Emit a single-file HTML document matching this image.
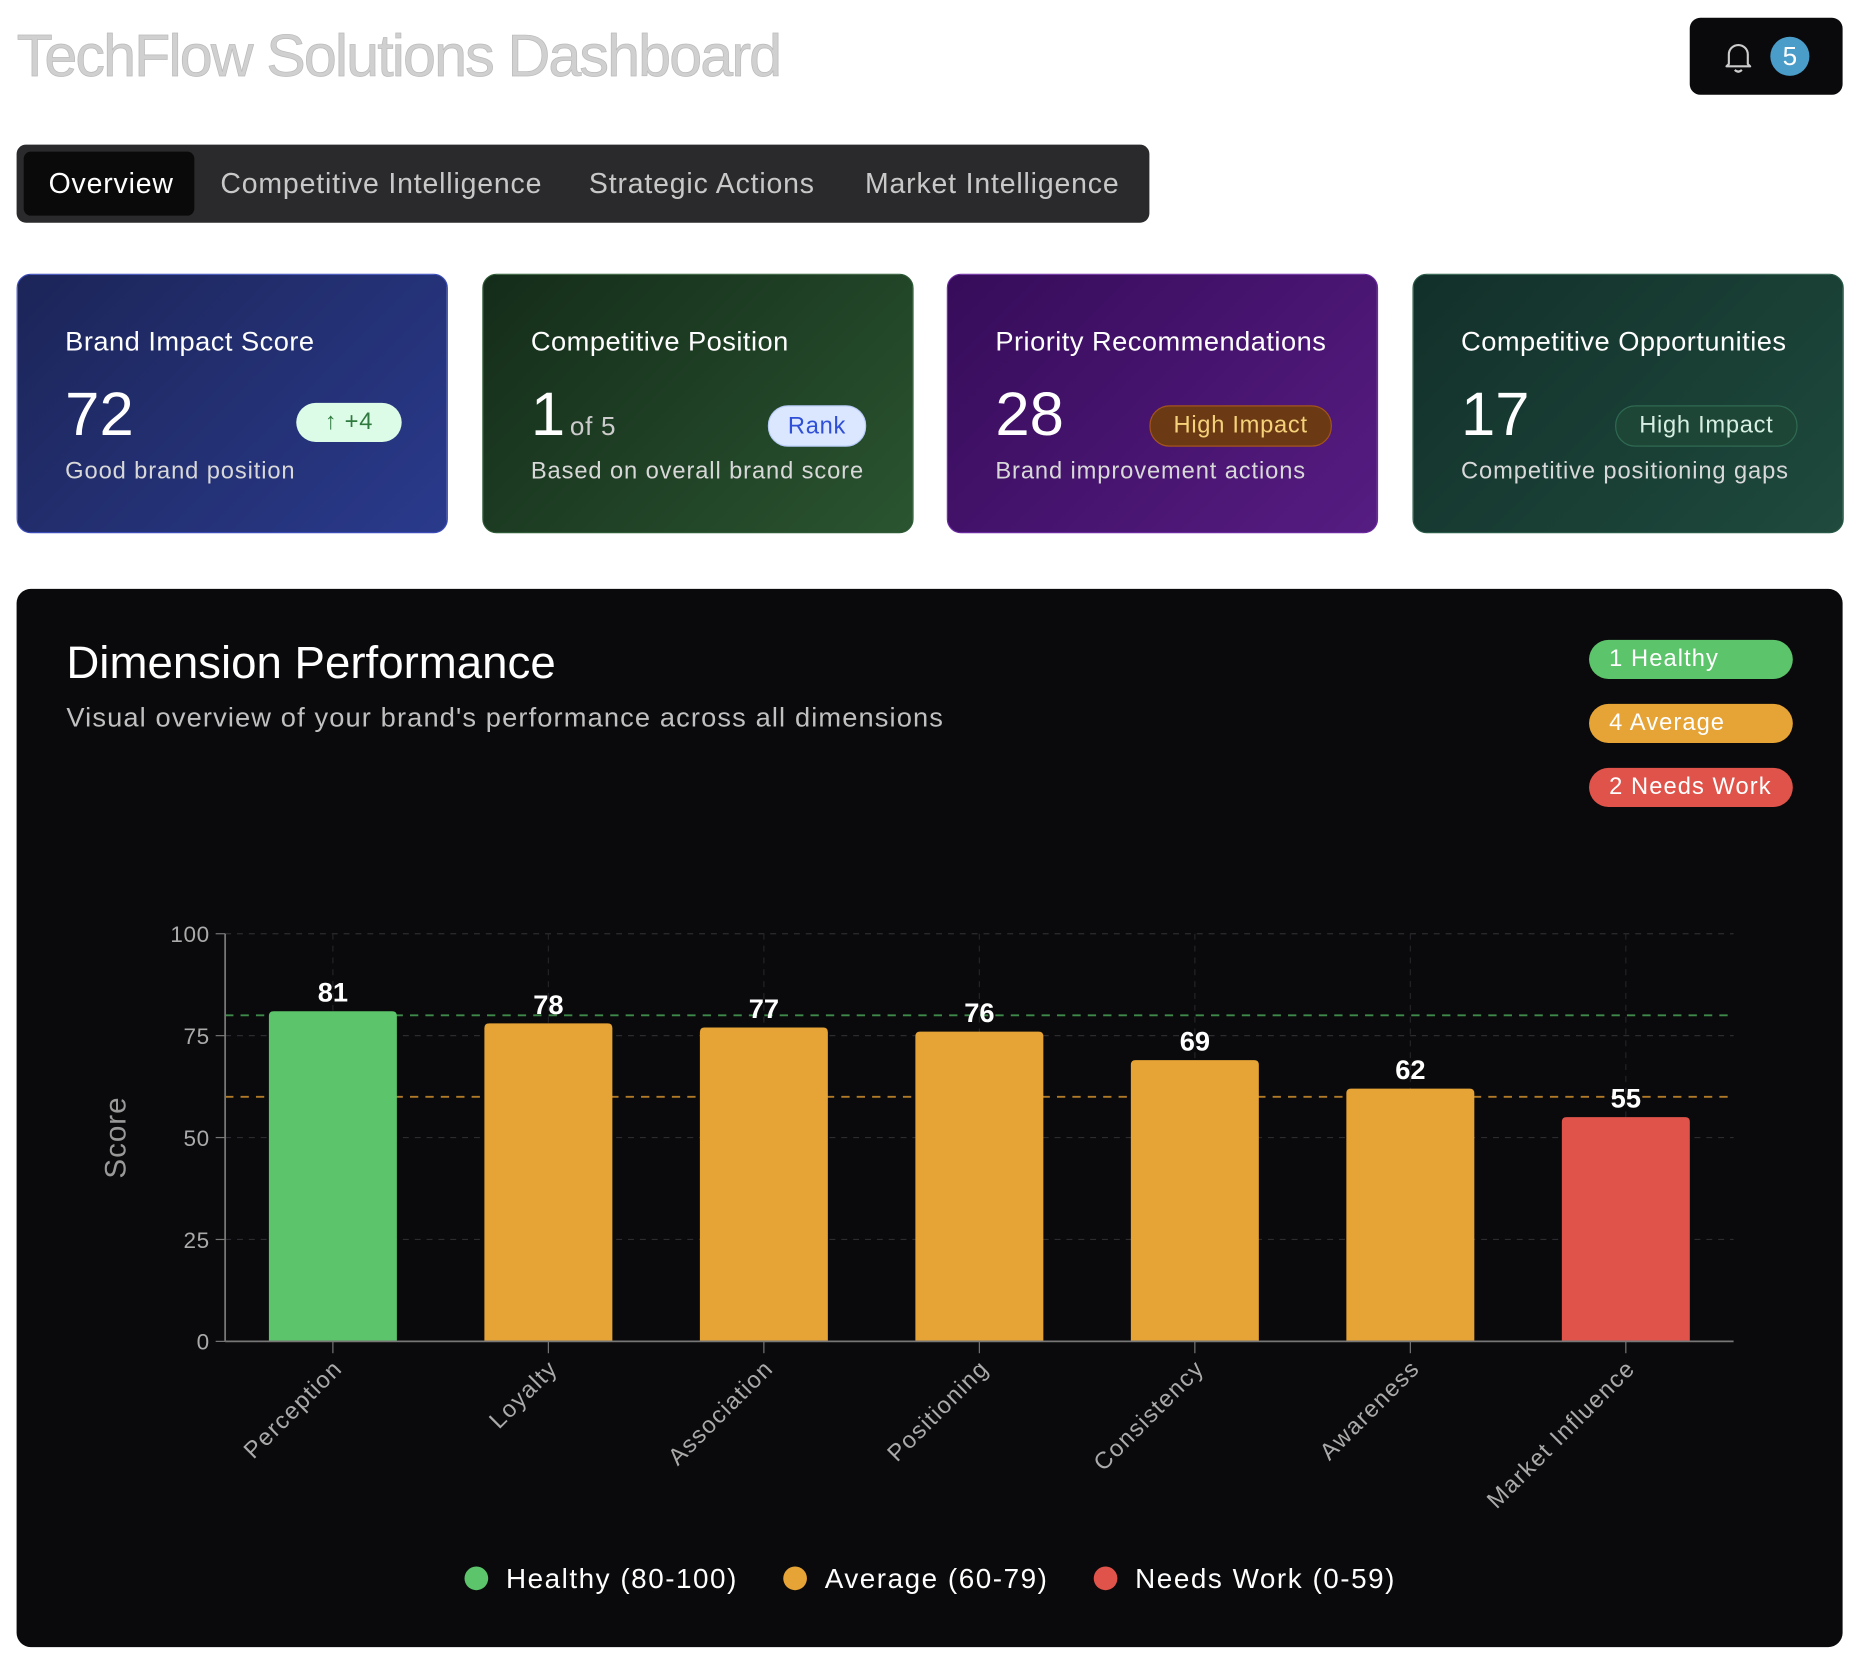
<!DOCTYPE html>
<html><head><meta charset="utf-8">
<style>
html,body{margin:0;padding:0;background:#fff;width:1858px;height:1662px;overflow:hidden}
#root{position:absolute;left:0;top:0;width:1568px;height:1403px;transform:scale(1.18495);transform-origin:0 0;font-family:"Liberation Sans",sans-serif}
.abs{position:absolute}
.title{left:14px;top:18px;font-size:50px;color:#d0d0d0;letter-spacing:-1.6px;-webkit-text-stroke:0.6px #bbb;white-space:nowrap}
.notif{left:1426px;top:15px;width:129px;height:65px;background:#0a0a0c;border-radius:9px}
.badge{left:1494px;top:31px;width:33px;height:33px;border-radius:50%;background:#4a9cc9;color:#fff;font-size:22px;text-align:center;line-height:33px}
.tabs{left:14px;top:122px;width:956px;height:66px;background:#2a2a2c;border-radius:8px}
.tab{position:absolute;top:1px;height:66px;line-height:66px;font-size:24px;color:#c8c8c8;white-space:nowrap;letter-spacing:0.7px}
.active{left:6px;top:6px;width:144px;height:54px;background:#0a0a0a;border-radius:6px}
.card{top:231px;width:364px;height:219px;border-radius:12px;box-sizing:border-box;color:#fff}
.card .t{position:absolute;left:40px;top:43px;font-size:23px;white-space:nowrap;letter-spacing:0.4px}
.card .n{position:absolute;left:40px;top:88px;font-size:52px;white-space:nowrap}
.card .s{position:absolute;left:40px;top:155px;font-size:20px;color:#d8d8d8;white-space:nowrap;letter-spacing:0.75px}
.pill{position:absolute;height:33px;line-height:33px;border-radius:17px;font-size:20px;text-align:center;box-sizing:border-box;letter-spacing:0.6px}
.panel{left:14px;top:497px;width:1541px;height:893px;background:#0a0a0c;border-radius:12px}
.lp{position:absolute;left:1327px;width:172px;height:33px;border-radius:17px;color:#fff;font-size:20px;line-height:33px;padding-left:17px;box-sizing:border-box;letter-spacing:0.9px}
</style></head><body>
<div id="root">
<div class="abs title">TechFlow Solutions Dashboard</div>
<div class="abs notif">
 <svg class="abs" style="left:28px;top:18px" width="26" height="30" viewBox="0 0 26 30"><path d="M5 21 V13 a8 8 0 0 1 16 0 V21 L23 23 H3 Z" fill="none" stroke="#ccc" stroke-width="1.8" stroke-linejoin="round"/><path d="M10 26 q3 3 6 0" fill="none" stroke="#ccc" stroke-width="1.8"/></svg>
</div>
<div class="abs badge">5</div>

<div class="abs tabs">
 <div class="abs active"></div>
 <div class="tab" style="left:27px;color:#fff">Overview</div>
 <div class="tab" style="left:172px">Competitive Intelligence</div>
 <div class="tab" style="left:483px">Strategic Actions</div>
 <div class="tab" style="left:716px">Market Intelligence</div>
</div>

<div class="abs card" style="left:14px;background:linear-gradient(135deg,#1c2558,#2a3a8c);border:1.5px solid #3b4cb8">
 <div class="t">Brand Impact Score</div>
 <div class="n">72</div>
 <div class="pill" style="left:235px;top:108px;width:89px;background:#dcfce7;color:#2f7a3f">↑ +4</div>
 <div class="s">Good brand position</div>
</div>
<div class="abs card" style="left:407px;background:linear-gradient(135deg,#142c1a,#2a5430);border:1.5px solid #2f5a36">
 <div class="t">Competitive Position</div>
 <div class="n">1<span style="font-size:22px;color:#ccc;margin-left:4px;letter-spacing:0.6px">of 5</span></div>
 <div class="pill" style="left:240px;top:110px;width:83px;height:35px;line-height:35px;background:#dbe7fe;color:#2f4fd6;border:1.5px solid #b8ccf8">Rank</div>
 <div class="s">Based on overall brand score</div>
</div>
<div class="abs card" style="left:799px;background:linear-gradient(135deg,#360c5a,#561c82);border:1.5px solid #6a2aa0">
 <div class="t">Priority Recommendations</div>
 <div class="n">28</div>
 <div class="pill" style="left:170px;top:110px;width:154px;height:35px;line-height:33px;background:#6b3a14;color:#f5d27a;border:1.5px solid #a3541c">High Impact</div>
 <div class="s">Brand improvement actions</div>
</div>
<div class="abs card" style="left:1192px;background:linear-gradient(135deg,#12302a,#1f4a3d);border:1.5px solid #2a5a48">
 <div class="t">Competitive Opportunities</div>
 <div class="n">17</div>
 <div class="pill" style="left:170px;top:110px;width:154px;height:35px;line-height:33px;background:#1d4636;color:#d6efe2;border:1.5px solid #2f6a52">High Impact</div>
 <div class="s">Competitive positioning gaps</div>
</div>

<div class="abs panel">
 <div class="abs" style="left:42px;top:41px;font-size:38.5px;color:#fff;white-space:nowrap">Dimension Performance</div>
 <div class="abs" style="left:42px;top:95px;font-size:23px;color:#c0c0c0;white-space:nowrap;letter-spacing:0.95px">Visual overview of your brand's performance across all dimensions</div>
 <div class="lp" style="top:43px;background:#5cc46a">1 Healthy</div>
 <div class="lp" style="top:97px;background:#e6a336">4 Average</div>
 <div class="lp" style="top:151px;background:#e0534a">2 Needs Work</div>
</div>

<svg class="abs" id="chart" style="left:0;top:0" width="1568" height="1403"></svg>
</div>
<script>
const categories=["Perception","Loyalty","Association","Positioning","Consistency","Awareness","Market Influence"];
const scores=[81,78,77,76,69,62,55];
const yTicks=[0,25,50,75,100];
const thresholds=[80,60];
const legendLabels=["Healthy (80-100)","Average (60-79)","Needs Work (0-59)"];

const NS="http://www.w3.org/2000/svg";
const svg=document.getElementById('chart');
const X0=190,X1=1463,Y0=1132,Y1=788;
const step=(X1-X0)/categories.length;
function xc(i){return X0+step*(i+0.5);}
function y(v){return Y0-(v/100)*(Y0-Y1);}
function colorFor(v){return v>=80?"#5cc46a":v>=60?"#e6a336":"#e0534a";}
function mk(tag,a){const e=document.createElementNS(NS,tag);for(const k in a)e.setAttribute(k,a[k]);svg.appendChild(e);return e;}

yTicks.forEach(t=>{
 if(t>0){const g=mk('line',{x1:X0,x2:X1,y1:y(t),y2:y(t),stroke:'#2c2c30','stroke-dasharray':'5,5'});
 
 }
 const tk=mk('line',{x1:X0-8,x2:X0,y1:y(t),y2:y(t),stroke:'#777'});
 
 
 const l=mk('text',{x:X0-13,y:y(t)+7,'text-anchor':'end','font-size':19,fill:'#aaa','font-family':'Liberation Sans, sans-serif','letter-spacing':'0.5'});
 l.textContent=t;
 
 
});
categories.forEach((c,i)=>{
 const g=mk('line',{x1:xc(i),x2:xc(i),y1:Y1,y2:Y0,stroke:'#242428','stroke-dasharray':'5,5'});
 
 
});
thresholds.forEach(t=>{
 const l=mk('line',{x1:X0,x2:X1,y1:y(t),y2:y(t),stroke:t>=80?'#3f8a4a':'#b07a28','stroke-width':1.6,'stroke-dasharray':'7,6'});
 
 
});
const bw=108;
scores.forEach((v,i)=>{
 const top=y(v),x=xc(i)-bw/2,r=4;
 const p=mk('path',{d:`M${x},${Y0} V${top+r} Q${x},${top} ${x+r},${top} H${x+bw-r} Q${x+bw},${top} ${x+bw},${top+r} V${Y0} Z`,fill:colorFor(v)});
 
 
 const t=mk('text',{x:xc(i),y:top-8,'text-anchor':'middle','font-size':23,'font-weight':'bold',fill:'#fff','font-family':'Liberation Sans, sans-serif'});
 t.textContent=v;
 
 
 const tk=mk('line',{x1:xc(i),x2:xc(i),y1:Y0,y2:Y0+10,stroke:'#777'});
 
 
 const lx=xc(i)+9,ly=Y0+24;
 const xl=mk('text',{x:lx,y:ly,'text-anchor':'end','font-size':20,fill:'#aaa','font-family':'Liberation Sans, sans-serif',transform:`rotate(-45 ${lx} ${ly})`,'letter-spacing':'1.2'});
 xl.textContent=categories[i];
 
 
});
const ax=mk('line',{x1:X0,x2:X0,y1:Y1,y2:Y0,stroke:'#777','stroke-width':1.5});


const bx=mk('line',{x1:X0,x2:X1,y1:Y0,y2:Y0,stroke:'#777','stroke-width':1.5});


const yt=mk('text',{x:106,y:960,'text-anchor':'middle','font-size':25,fill:'#999','font-family':'Liberation Sans, sans-serif',transform:'rotate(-90 106 960)','letter-spacing':'0.8'});
yt.textContent='Score';


const legCols=["#5cc46a","#e6a336","#e0534a"],legX=[402,671,933];
legendLabels.forEach((s,i)=>{
 const c=mk('circle',{cx:legX[i],cy:1332,r:10,fill:legCols[i]});
 
 
 const t=mk('text',{x:legX[i]+25,y:1340,'font-size':23.5,fill:'#fff','font-family':'Liberation Sans, sans-serif','letter-spacing':'1.3'});
 t.textContent=s;
 
 
});
</script>
</body></html>
